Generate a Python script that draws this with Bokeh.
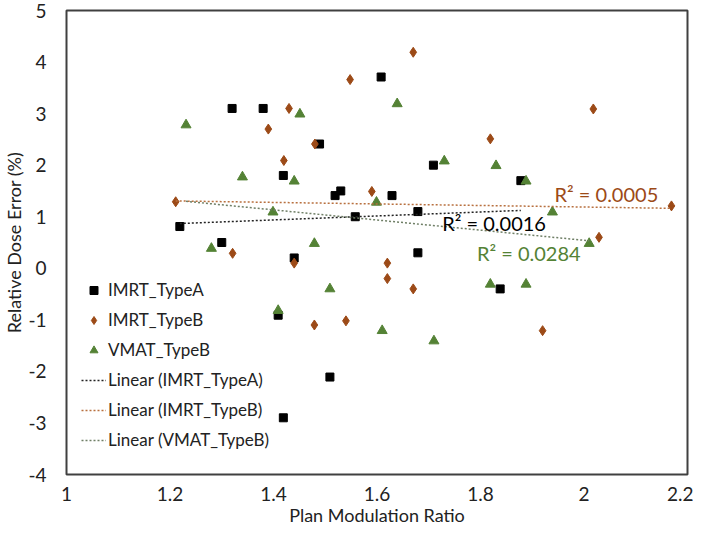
import numpy as np
from bokeh.plotting import figure
from bokeh.models import (FixedTicker, NumeralTickFormatter, Legend, LegendItem, Label)
from bokeh.embed import file_html
from bokeh.resources import INLINE

# ---- data ----
imrtA_x = [1.219, 1.300, 1.320, 1.380, 1.419, 1.440, 1.489, 1.519, 1.530, 1.558,
           1.608, 1.629, 1.679, 1.679, 1.709, 1.878, 1.838, 1.409, 1.509, 1.419]
imrtA_y = [0.81, 0.50, 3.10, 3.10, 1.80, 0.20, 2.41, 1.41, 1.50, 1.00,
           3.71, 1.41, 1.10, 0.30, 2.00, 1.70, -0.40, -0.91, -2.11, -2.90]

imrtB_x = [1.211, 1.548, 1.430, 1.390, 1.480, 1.420, 1.590, 1.321, 1.440, 1.620,
           1.670, 2.018, 1.819, 2.169, 2.029, 1.479, 1.540, 1.620, 1.670, 1.920]
imrtB_y = [1.29, 3.66, 3.10, 2.70, 2.41, 2.09, 1.49, 0.29, 0.10, 0.10,
           4.19, 3.09, 2.51, 1.21, 0.60, -1.10, -1.02, -0.20, -0.40, -1.21]

vmatB_x = [1.231, 1.451, 1.340, 1.440, 1.399, 1.599, 1.280, 1.479, 1.639, 1.730,
           1.830, 1.888, 1.939, 2.010, 1.409, 1.509, 1.610, 1.710, 1.819, 1.888]
vmatB_y = [2.78, 2.99, 1.77, 1.69, 1.09, 1.28, 0.385, 0.48, 3.19, 2.08,
           1.99, 1.69, 1.09, 0.48, -0.82, -0.40, -1.21, -1.41, -0.31, -0.31]

series_names = ["IMRT_TypeA", "IMRT_TypeB", "VMAT_TypeB"]
r2_texts = ["R\u00b2 = 0.0016", "R\u00b2 = 0.0005", "R\u00b2 = 0.0284"]
x_ticks = [1, 1.2, 1.4, 1.6, 1.8, 2, 2.2]
y_ticks = [-4, -3, -2, -1, 0, 1, 2, 3, 4, 5]

BLACK = "#000000"
BROWN = "#9C4A17"
GREEN = "#548235"
FONT = "Lato"

p = figure(width=693, height=530, output_backend="svg", toolbar_location=None,
           x_range=(1, 2.2), y_range=(-4, 5),
           min_border_left=57, min_border_right=6, min_border_top=10, min_border_bottom=56)
p.background_fill_color = "white"
p.border_fill_color = "white"
p.grid.visible = False
p.outline_line_color = "#404040"
p.outline_line_width = 2

for ax in (p.xaxis[0], p.yaxis[0]):
    ax.axis_line_color = None
    ax.major_tick_line_color = None
    ax.minor_tick_line_color = None
    ax.major_label_text_font = FONT
    ax.major_label_text_font_size = "19px"
    ax.major_label_text_color = "#222222"
    ax.axis_label_text_font = FONT
    ax.axis_label_text_font_size = "18px"
    ax.axis_label_text_font_style = "normal"
    ax.axis_label_text_color = "#222222"

p.xaxis.ticker = FixedTicker(ticks=x_ticks)
p.yaxis.ticker = FixedTicker(ticks=y_ticks)
p.xaxis.formatter = NumeralTickFormatter(format="0.[0]")
p.yaxis.formatter = NumeralTickFormatter(format="0")
p.xaxis.axis_label = "Plan Modulation Ratio"
p.yaxis.axis_label = "Relative Dose Error (%)"
p.xaxis.major_label_standoff = 6
p.yaxis.major_label_standoff = 14
p.xaxis.axis_label_standoff = 0
p.yaxis.axis_label_standoff = 0

# scatter
rA = p.scatter(imrtA_x, imrtA_y, marker="square", size=8, color=BLACK)
rB = p.scatter(imrtB_x, imrtB_y, marker="diamond", size=10, color=BROWN)
rV = p.scatter(vmatB_x, vmatB_y, marker="triangle", size=10, color=GREEN)

# linear trendlines (least squares from data)
def trend(xs, ys):
    xs = np.asarray(xs); ys = np.asarray(ys)
    m, b = np.polyfit(xs, ys, 1)
    x0, x1 = xs.min(), xs.max()
    return [x0, x1], [m * x0 + b, m * x1 + b]

tx, ty = trend(imrtA_x, imrtA_y)
lA = p.line(tx, ty, line_color="#222222", line_width=1.5, line_dash="2 2")
tx, ty = trend(imrtB_x, imrtB_y)
lB = p.line(tx, ty, line_color="#B8703F", line_width=1.5, line_dash="2 2")
tx, ty = trend(vmatB_x, vmatB_y)
lV = p.line(tx, ty, line_color="#6F7F66", line_width=1.5, line_dash="2 2")

# R^2 labels
p.add_layout(Label(x=1.726, y=0.87, text=r2_texts[0], text_color=BLACK,
                   text_font=FONT, text_font_size="20px", text_baseline="middle"))
p.add_layout(Label(x=1.943, y=1.44, text=r2_texts[1], text_color=BROWN,
                   text_font=FONT, text_font_size="20px", text_baseline="middle"))
p.add_layout(Label(x=1.793, y=0.30, text=r2_texts[2], text_color=GREEN,
                   text_font=FONT, text_font_size="20px", text_baseline="middle"))

legend = Legend(items=[
    LegendItem(label=series_names[0], renderers=[rA]),
    LegendItem(label=series_names[1], renderers=[rB]),
    LegendItem(label=series_names[2], renderers=[rV]),
    LegendItem(label="Linear (" + series_names[0] + ")", renderers=[lA]),
    LegendItem(label="Linear (" + series_names[1] + ")", renderers=[lB]),
    LegendItem(label="Linear (" + series_names[2] + ")", renderers=[lV]),
], location=(15, 24))
legend.border_line_color = None
legend.background_fill_alpha = 0
legend.padding = 0
legend.margin = 0
legend.spacing = 9
legend.glyph_width = 25
legend.glyph_height = 20
legend.label_height = 20
legend.label_standoff = 2
legend.label_text_font = FONT
legend.label_text_font_size = "17px"
legend.label_text_color = "#222222"
p.add_layout(legend, "center")

open("out.html", "w").write(file_html(p, INLINE))
